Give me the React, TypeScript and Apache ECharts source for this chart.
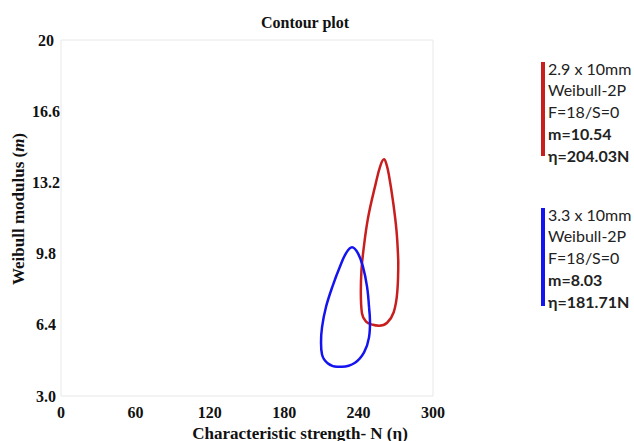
import React, { useEffect, useRef } from "react";
import * as echarts from "echarts";

const xTicks = [0, 60, 120, 180, 240, 300];
const yTicks = [3.0, 6.4, 9.8, 13.2, 16.6, 20];

// Contour for 2.9 x 10mm (red), [eta, m]
const redContour: [number, number][] = [
  [272.0, 9.42], [271.2, 7.97], [268.3, 7.0], [263.0, 6.5], [256.5, 6.36],
  [251.5, 6.4], [246.0, 6.55], [242.7, 6.95], [241.8, 7.97], [242.3, 9.0],
  [243.8, 9.91], [247.6, 11.5], [253.8, 13.14], [257.6, 14.0], [260.5, 14.30],
  [262.5, 14.06], [264.5, 13.53], [267.7, 12.32], [270.6, 10.87], [272.0, 9.42],
];

// Contour for 3.3 x 10mm (blue), [eta, m]
const blueContour: [number, number][] = [
  [248.4, 7.25], [249.2, 6.53], [248.4, 5.80], [244.4, 5.08], [237.1, 4.59],
  [226.6, 4.40], [222.6, 4.40], [215.3, 4.55], [210.5, 4.98], [209.7, 5.56],
  [210.5, 6.28], [213.7, 7.25], [219.4, 8.31], [225.0, 9.18], [229.8, 9.81],
  [234.7, 10.10], [239.5, 9.81], [243.5, 9.18], [246.8, 8.22], [248.4, 7.25],
];

const redLegend = ["2.9 x 10mm", "Weibull-2P", "F=18/S=0", "m=10.54", "η=204.03N"];
const blueLegend = ["3.3 x 10mm", "Weibull-2P", "F=18/S=0", "m=8.03", "η=181.71N"];
const boldFrom = 3;

const RED = "#c81e1e";
const BLUE = "#1414f0";
const SERIF = "'Liberation Serif', 'Times New Roman', serif";
const SANS = "Lato, 'Open Sans', sans-serif";

function legendBlock(lines: string[], color: string, top: number, barTop: number, barBottom: number) {
  const els: any[] = [
    {
      type: "rect",
      shape: { x: 541, y: barTop, width: 4, height: barBottom - barTop },
      style: { fill: color },
    },
  ];
  lines.forEach((t, i) => {
    els.push({
      type: "text",
      x: 548,
      y: top + i * 21.75,
      style: {
        text: t,
        fill: "#222",
        font: `${i >= boldFrom ? "bold " : ""}16px ${SANS}`,
        textAlign: "left",
        textVerticalAlign: "middle",
      },
    });
  });
  return els;
}

export default function App() {
  const ref = useRef<HTMLDivElement>(null);
  useEffect(() => {
    if (!ref.current) return;
    const chart = echarts.init(ref.current, undefined, { renderer: "svg" });
    chart.setOption({
      animation: false,
      backgroundColor: "#ffffff",
      grid: {
        left: 61,
        top: 40,
        width: 372,
        height: 356,
        show: true,
        borderColor: "#e8e8e8",
        borderWidth: 1,
      },
      xAxis: {
        type: "value",
        min: 0,
        max: 300,
        interval: 60,
        axisLine: { show: false },
        axisTick: { show: false },
        splitLine: { show: false },
        axisLabel: {
          customValues: xTicks,
          margin: 8,
          fontFamily: SERIF,
          fontWeight: "bold",
          fontSize: 16,
          color: "#111",
        },
      },
      yAxis: {
        type: "value",
        min: 3,
        max: 20,
        axisLine: { show: false },
        axisTick: { show: false },
        splitLine: { show: false },
        axisLabel: {
          customValues: yTicks,
          margin: 15,
          align: "center",
          fontFamily: SERIF,
          fontWeight: "bold",
          fontSize: 16,
          color: "#111",
          formatter: (v: number) => (v === 20 ? "20" : v.toFixed(1)),
        },
      },
      series: [
        {
          type: "line",
          data: redContour,
          smooth: 0.4,
          showSymbol: false,
          lineStyle: { color: RED, width: 2.5 },
        },
        {
          type: "line",
          data: blueContour,
          smooth: 0.4,
          showSymbol: false,
          lineStyle: { color: BLUE, width: 2.5 },
        },
      ],
      graphic: [
        {
          type: "text",
          x: 305,
          y: 22,
          style: {
            text: "Contour plot",
            font: `bold 16px ${SERIF}`,
            fill: "#111",
            textAlign: "center",
            textVerticalAlign: "middle",
          },
        },
        {
          type: "text",
          x: 300,
          y: 433,
          style: {
            text: "Characteristic strength- N (η)",
            font: `bold 17px ${SERIF}`,
            fill: "#111",
            textAlign: "center",
            textVerticalAlign: "middle",
          },
        },
        {
          type: "text",
          x: 18,
          y: 209,
          rotation: Math.PI / 2,
          style: {
            text: "{a|Weibull modulus (}{i|m}{a|)}",
            textAlign: "center",
            textVerticalAlign: "middle",
            rich: {
              a: { font: `bold 17px ${SERIF}`, fill: "#111" },
              i: { font: `italic bold 17px ${SERIF}`, fill: "#111" },
            },
          },
        },
        ...legendBlock(redLegend, RED, 68, 62, 156),
        ...legendBlock(blueLegend, BLUE, 214, 208, 306),
      ],
    });
    return () => chart.dispose();
  }, []);
  return (
    <div
      ref={ref}
      style={{ position: "fixed", left: 0, top: 0, width: 634, height: 441 }}
    />
  );
}
